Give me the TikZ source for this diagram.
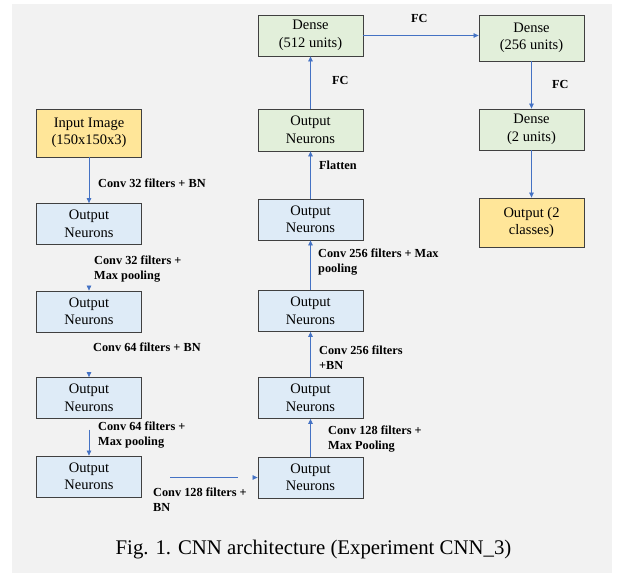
\documentclass[tikz,border=0pt]{standalone}
\usepackage{fontspec}
\setmainfont{Liberation Serif}
\usetikzlibrary{arrows.meta,positioning}
\definecolor{bggray}{HTML}{F2F2F2}
\definecolor{boxblue}{HTML}{DEEBF7}
\definecolor{boxgreen}{HTML}{E2EFDA}
\definecolor{boxyellow}{HTML}{FFE699}
\definecolor{linkblue}{HTML}{4472C4}
\definecolor{edgegray}{HTML}{404040}

\begin{document}
\begin{tikzpicture}[x=1pt,y=-1pt,
    layer/.style={draw=edgegray,line width=0.8pt,minimum width=105pt,minimum height=41pt,
      inner sep=0pt,align=center,font=\fontsize{14.5}{17.5}\selectfont},
    conv/.style={layer,fill=boxblue},
    dense/.style={layer,fill=boxgreen},
    io/.style={layer,fill=boxyellow},
    conn/.style={draw=linkblue,line width=0.7pt,-{Triangle[length=5pt,width=4.5pt]}},
    lab/.style={anchor=west,align=left,inner sep=0pt,
      font=\fontsize{12.3}{15}\selectfont\bfseries}]
  \useasboundingbox (0,0) rectangle (618,573);
  \fill[bggray] (12,4) rectangle (612,573);
% left column
  \node[io,minimum height=48pt] (in) at (89,133) {Input Image\\(150x150x3)};
  \node[conv] (o1) at (89,224) {Output\\Neurons};
  \node[conv] (o2) at (89,311.5) {Output\\Neurons};
  \node[conv] (o3) at (89,398) {Output\\Neurons};
  \node[conv] (o4) at (89,476.5) {Output\\Neurons};
% middle column
  \node[conv] (o5) at (310.5,477.5) {Output\\Neurons};
  \node[conv] (o6) at (310.5,398) {Output\\Neurons};
  \node[conv] (o7) at (310.5,311) {Output\\Neurons};
  \node[conv] (o8) at (310.5,219.5) {Output\\Neurons};
  \node[dense,minimum height=42pt] (o9) at (310.5,130) {Output\\Neurons};
  \node[dense] (d1) at (310.5,35.5) {Dense\\(512 units)};
% right column
  \node[dense,minimum height=46pt] (d2) at (531.5,38) {Dense\\(256 units)};
  \node[dense] (d3) at (531.5,129.5) {Dense\\(2 units)};
  \node[io,minimum height=49pt] (out) at (531.5,222.5) {Output (2\\classes)};
% connectors
  \draw[conn] (in) -- (o1);
  \draw[conn] ([yshift=5pt]o2.north) -- (o2.north);
  \draw[conn] ([yshift=5pt]o3.north) -- (o3.north);
  \draw[conn] ([yshift=26pt]o4.north) -- (o4.north);
  \coordinate (h1) at (170,477);
  \coordinate (h2) at (238,477);
  \draw[draw=linkblue,line width=0.7pt] (h1) -- (h2);
  \draw[conn] ([xshift=-5pt]o5.west) -- (o5.west);
  \draw[conn] (o5) -- (o6);
  \draw[conn] (o6) -- (o7);
  \draw[conn] (o7) -- (o8);
  \draw[conn] (o8) -- (o9);
  \draw[conn] (o9) -- (d1);
  \draw[conn] (d1.east) -- (d2.west |- d1.east);
  \draw[conn] (d2) -- (d3);
  \draw[conn] (d3) -- (out);
% labels
  \node[lab] (l1) at (98,183) {Conv 32 filters + BN};
  \node[lab] (l2) at (94,269.5) {Conv 32 filters +\\Max pooling};
  \node[lab] (l3) at (93,347) {Conv 64 filters + BN};
  \node[lab] (l4) at (98,435.5) {Conv 64 filters +\\Max pooling};
  \node[lab] (l5) at (153,499.5) {Conv 128 filters +\\BN};
  \node[lab] (l6) at (328,439.5) {Conv 128 filters +\\Max Pooling};
  \node[lab] (l7) at (319,357.5) {Conv 256 filters\\+BN};
  \node[lab] (l8) at (318,262.5) {Conv 256 filters + Max\\pooling};
  \node[lab] (l9) at (319,165) {Flatten};
  \node[lab] (l10) at (332,80) {FC};
  \node[lab] (l11) at (411,18) {FC};
  \node[lab] (l12) at (552,84) {FC};
  \node[font=\fontsize{20.8}{24}\selectfont] (cap) at (313.5,550) {Fig. 1. CNN architecture (Experiment CNN\_3)};
\end{tikzpicture}
\end{document}
